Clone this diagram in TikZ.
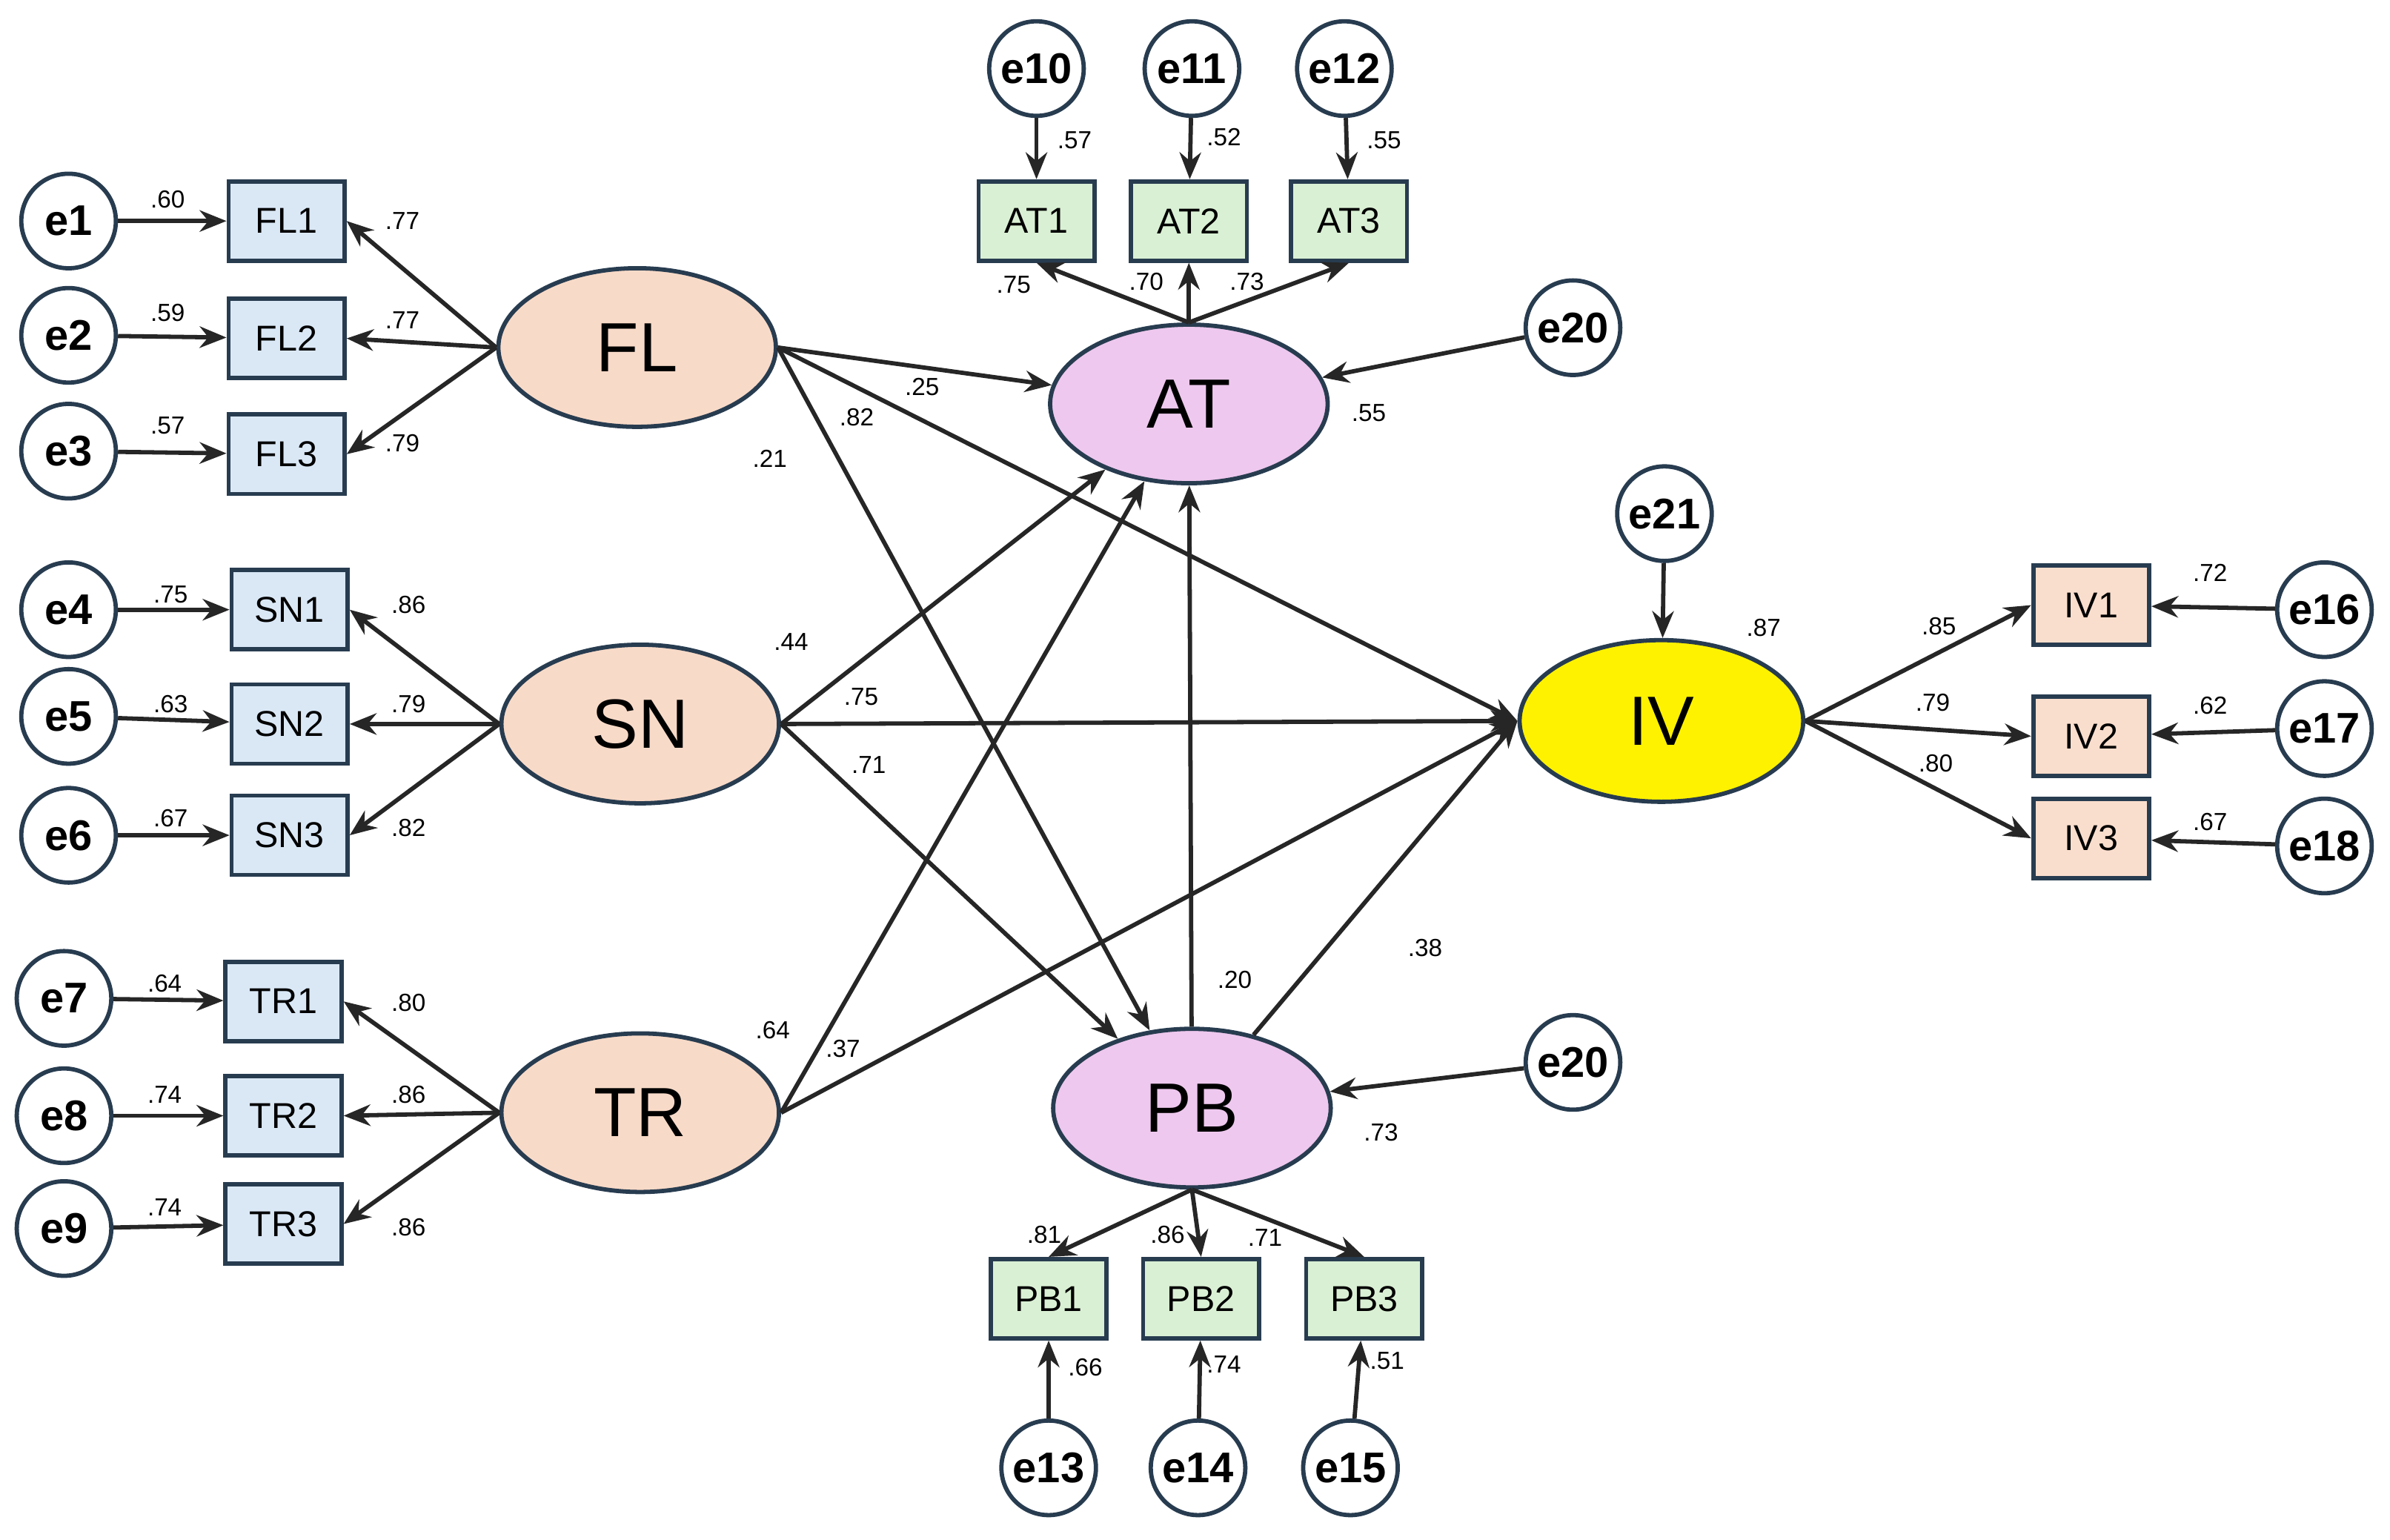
\documentclass[tikz,border=0pt]{standalone}
\usepackage{fontspec}
\setmainfont{Liberation Sans}
\usetikzlibrary{arrows.meta}
\definecolor{edge}{RGB}{40,60,80}
\definecolor{boxblue}{RGB}{218,232,246}
\definecolor{boxgreen}{RGB}{218,240,212}
\definecolor{boxpeach}{RGB}{250,222,205}
\definecolor{latpeach}{RGB}{248,218,200}
\definecolor{latpink}{RGB}{238,200,238}
\tikzset{
  err/.style={circle, draw=edge, thick, fill=white, minimum size=0.62cm, inner sep=0pt, font=\fontsize{8}{9}\selectfont\bfseries},
  ind/.style={rectangle, draw=edge, thick, minimum width=0.76cm, minimum height=0.52cm, inner sep=0pt, font=\fontsize{6.7}{8}\selectfont},
  lat/.style={ellipse, draw=edge, thick, minimum width=1.82cm, minimum height=1.04cm, inner sep=0pt, font=\fontsize{13}{15}\selectfont},
  lbl/.style={font=\fontsize{4.6}{5}\selectfont, inner sep=0pt},
  pth/.style={-{Stealth[length=5pt,width=4pt]}, thick, black!85}
}
\usetikzlibrary{shapes.geometric}
\begin{document}
\begin{tikzpicture}[x=0.01cm,y=-0.01cm]
\useasboundingbox (0,0) rectangle (1568,1010);
% latent variables
\node[lat, fill=latpeach] (FL) at (418,228) {FL};
\node[lat, fill=latpeach] (SN) at (420,475) {SN};
\node[lat, fill=latpeach] (TR) at (420,730) {TR};
\node[lat, fill=latpink] (AT) at (780,265) {AT};
\node[lat, fill=latpink] (PB) at (782,727) {PB};
\node[lat, fill=yellow, minimum width=1.86cm, minimum height=1.06cm] (IV) at (1090,473) {IV};
% indicators and errors, left block
\foreach \n/\y/\ey in {1/145/145,2/222/220,3/298/296}{
  \node[ind, fill=boxblue] (FL\n) at (188,\y) {FL\n};
  \node[err] (e\n) at (45,\ey) {e\n};
  \draw[pth] (e\n) -- (FL\n);
  \draw[pth] (FL.west) -- (FL\n.east);
}
\foreach \n/\e/\y/\ey in {1/4/400/400,2/5/475/470,3/6/548/548}{
  \node[ind, fill=boxblue] (SN\n) at (190,\y) {SN\n};
  \node[err] (e\e) at (45,\ey) {e\e};
  \draw[pth] (e\e) -- (SN\n);
  \draw[pth] (SN.west) -- (SN\n.east);
}
\foreach \n/\e/\y/\ey in {1/7/657/655,2/8/732/732,3/9/803/806}{
  \node[ind, fill=boxblue] (TR\n) at (186,\y) {TR\n};
  \node[err] (e\e) at (42,\ey) {e\e};
  \draw[pth] (e\e) -- (TR\n);
  \draw[pth] (TR.west) -- (TR\n.east);
}
% AT block
\foreach \n/\e/\x/\ex in {1/10/680/680,2/11/780/782,3/12/885/882}{
  \node[ind, fill=boxgreen] (AT\n) at (\x,145) {AT\n};
  \node[err] (e\e) at (\ex,45) {e\e};
  \draw[pth] (e\e) -- (AT\n);
  \draw[pth] (AT.north) -- (AT\n.south);
}
% PB block
\foreach \n/\e/\x/\ex in {1/13/688/688,2/14/788/786,3/15/895/886}{
  \node[ind, fill=boxgreen] (PB\n) at (\x,852) {PB\n};
  \node[err] (e\e) at (\ex,963) {e\e};
  \draw[pth] (e\e) -- (PB\n);
  \draw[pth] (PB.south) -- (PB\n.north);
}
% IV block
\foreach \n/\e/\y/\ey in {1/16/397/400,2/17/483/478,3/18/550/555}{
  \node[ind, fill=boxpeach] (IV\n) at (1372,\y) {IV\n};
  \node[err] (e\e) at (1525,\ey) {e\e};
  \draw[pth] (e\e) -- (IV\n);
  \draw[pth] (IV.east) -- (IV\n.west);
}
% residuals of endogenous
\node[err] (e20a) at (1032,215) {e20};
\node[err] (e20b) at (1032,697) {e20};
\node[err] (e21) at (1092,337) {e21};
\draw[pth] (e20a) -- (AT);
\draw[pth] (e20b) -- (PB);
\draw[pth] (e21) -- (IV);
% structural paths
\draw[pth] (FL.east) -- (AT);
\draw[pth] (FL.east) -- (PB);
\draw[pth] (FL.east) -- (IV.west);
\draw[pth] (SN.east) -- (AT);
\draw[pth] (SN.east) -- (IV.west);
\draw[pth] (SN.east) -- (PB);
\draw[pth] (TR.east) -- (AT);
\draw[pth] (TR.east) -- (IV.west);
\draw[pth] (PB) -- (AT);
\draw[pth] (PB) -- (IV.west);
% estimates
\foreach \t/\x/\y in {
 .60/110/131,.59/110/205,.57/110/279,.77/264/145,.77/264/210,.79/264/291,
 .75/112/390,.63/112/462,.67/112/537,.86/268/397,.79/268/462,.82/268/543,
 .64/108/645,.74/108/718,.74/108/792,.80/268/658,.86/268/718,.86/268/805,
 .57/705/92,.52/803/90,.55/908/92,.75/665/187,.70/752/185,.73/818/185,
 .25/605/254,.82/562/274,.21/505/301,.55/898/271,
 .44/519/421,.75/565/457,.71/570/502,.64/507/676,.37/553/688,
 .20/810/643,.38/935/622,.73/906/743,.87/1157/412,
 .85/1272/411,.79/1268/461,.80/1270/501,.72/1450/376,.62/1450/463,.67/1450/539,
 .81/685/810,.86/766/810,.71/830/812,.66/712/897,.74/803/895,.51/910/893}
  \node[lbl] at (\x,\y) {\t};
\end{tikzpicture}
\end{document}
